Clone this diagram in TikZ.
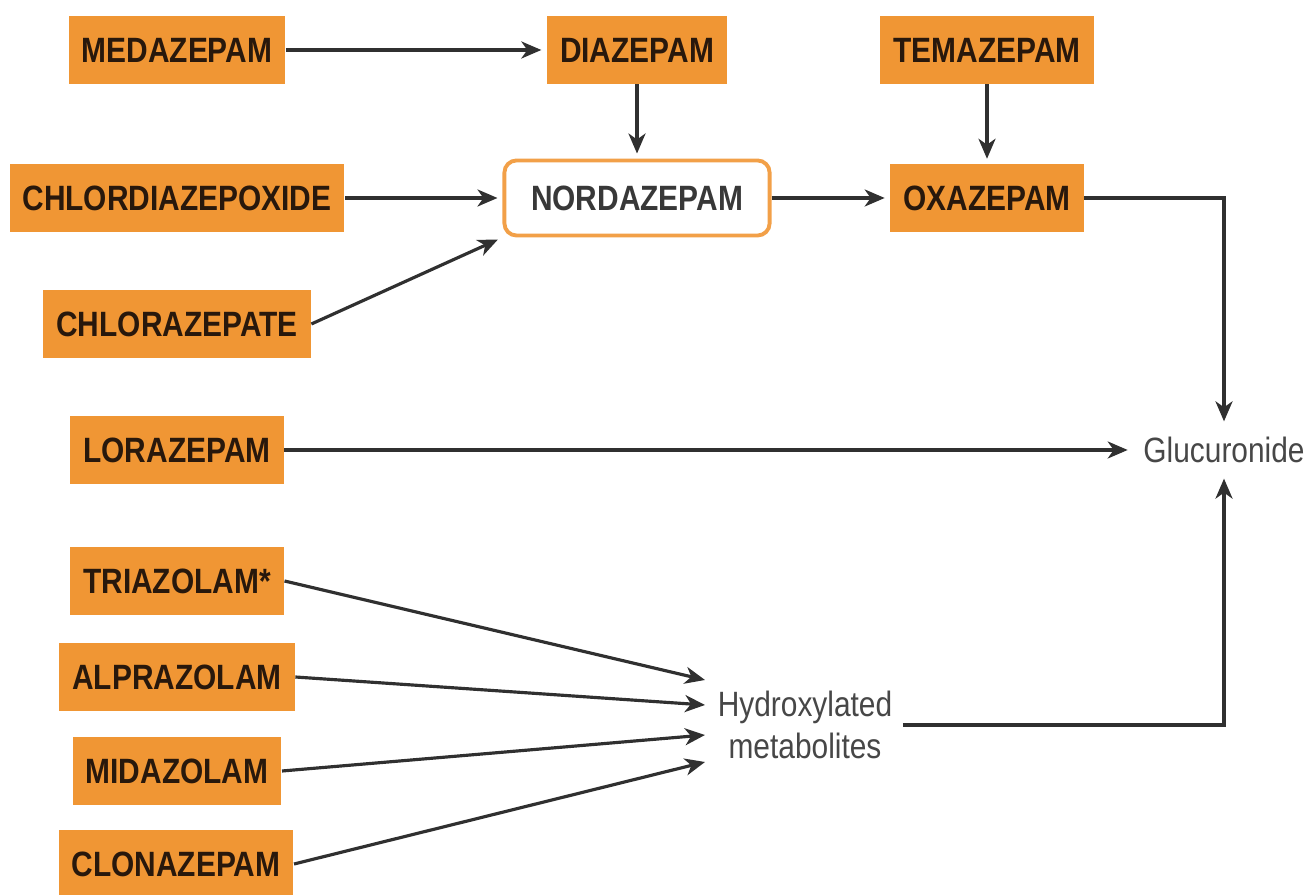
\documentclass[tikz,border=0pt]{standalone}
\usepackage{fontspec}
\setmainfont{Liberation Sans}[FakeStretch=0.85]
\usetikzlibrary{arrows.meta,calc}
\definecolor{drugorange}{RGB}{240,150,52}
\definecolor{drugtext}{RGB}{40,24,12}
\definecolor{linegrey}{RGB}{48,48,48}
\tikzset{
	drug/.style={fill=drugorange, text=drugtext, font=\bfseries, inner xsep=0.13cm, minimum height=0.67cm},
	hub/.style={draw=drugorange!90, rounded corners=0.12cm, line width=1.1pt, fill=white, text=black!78, font=\bfseries, minimum width=2.65cm, minimum height=0.75cm},
	plain/.style={text=black!72, align=center, inner sep=0.1cm},
	conv/.style={draw=linegrey, line width=0.9pt, -{Stealth[length=0.2cm,width=0.17cm,inset=0.06cm]}, shorten >=0.05cm}
}

\begin{document}
\begin{tikzpicture}[x=0.01cm, y=-0.01cm]
		%%%%% START %%%%%
		\useasboundingbox (0, 0) rectangle (1309, 895);
		
		\node[drug] (med) at (177, 50) {MEDAZEPAM};
		\node[drug] (dia) at (637, 50) {DIAZEPAM};
		\node[drug] (tem) at (987, 50) {TEMAZEPAM};
		
		\node[drug] (chd) at (177, 198) {CHLORDIAZEPOXIDE};
		\node[hub] (nord) at (637, 198) {NORDAZEPAM};
		\node[drug] (oxa) at (987, 198) {OXAZEPAM};
		\node[drug] (clz) at (177, 324) {CHLORAZEPATE};
		
		\node[drug] (lor) at (177, 450) {LORAZEPAM};
		\node[plain] (glu) at (1224, 450) {Glucuronide};
		
		\node[drug] (tri) at (177, 581) {TRIAZOLAM*};
		\node[drug] (alp) at (177, 677) {ALPRAZOLAM};
		\node[drug] (mid) at (177, 771) {MIDAZOLAM};
		\node[drug] (clo) at (176, 864) {CLONAZEPAM};
		\node[plain] (hyd) at (805, 725) {Hydroxylated\\metabolites};
		
		\coordinate (h1) at (705, 680);
		\coordinate (h2) at (705, 705);
		\coordinate (h3) at (705, 735);
		\coordinate (h4) at (705, 762);
		
		% upper chain
		\draw[conv] (med) -- (dia);
		\draw[conv] (dia) -- (nord);
		\draw[conv] (tem) -- (oxa);
		\draw[conv] (chd) -- (nord);
		\draw[conv] (clz.east) -- (nord.south west);
		\draw[conv] (nord) -- (oxa);
		\draw[conv] (oxa.east) -| (glu.north);
		
		\draw[conv] (lor) -- (glu);
		
		% hydroxylation
		\draw[conv, shorten >=0pt] (tri.east) -- (h1);
		\draw[conv, shorten >=0pt] (alp.east) -- (h2);
		\draw[conv, shorten >=0pt] (mid.east) -- (h3);
		\draw[conv, shorten >=0pt] (clo.east) -- (h4);
		\draw[conv] (hyd.east) -| (glu.south);
		
		%%%%% END %%%%%
\end{tikzpicture}
\end{document}
